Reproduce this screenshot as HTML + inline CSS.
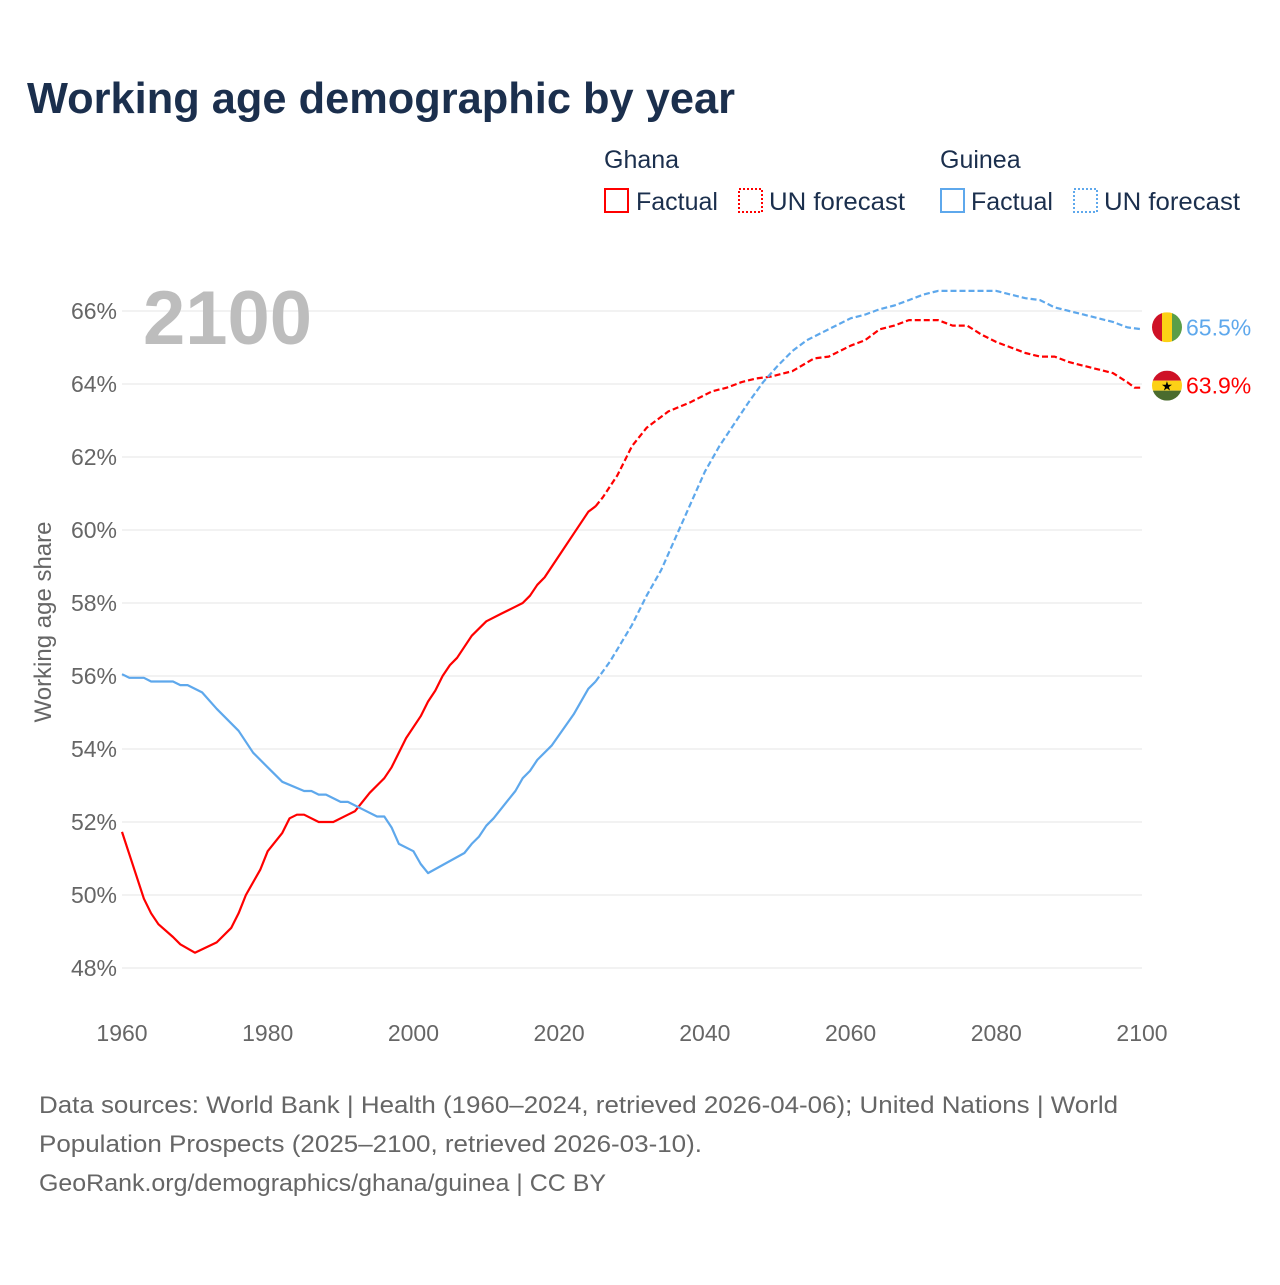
<!DOCTYPE html>
<html><head><meta charset="utf-8"><style>
body{margin:0;background:#fff;width:1280px;height:1280px;overflow:hidden;font-family:"Liberation Sans",sans-serif}
</style></head><body>
<svg id="c" width="1280" height="1280" xmlns="http://www.w3.org/2000/svg">
<text x="27" y="113" font-size="44" font-weight="bold" fill="#1b2f4d" textLength="708" lengthAdjust="spacingAndGlyphs">Working age demographic by year</text>
<g font-size="25" fill="#1b2f4d">
<text x="604" y="168">Ghana</text>
<rect x="605" y="189" width="23" height="23" fill="none" stroke="#f00" stroke-width="2"/>
<text x="636" y="210">Factual</text>
<rect x="739" y="189" width="23" height="23" fill="none" stroke="#f00" stroke-width="2" stroke-dasharray="2,2"/>
<text x="769" y="210" textLength="136" lengthAdjust="spacingAndGlyphs">UN forecast</text>
<text x="940" y="168">Guinea</text>
<rect x="941" y="189" width="23" height="23" fill="none" stroke="#5ea8ec" stroke-width="2"/>
<text x="971" y="210">Factual</text>
<rect x="1074" y="189" width="23" height="23" fill="none" stroke="#5ea8ec" stroke-width="2" stroke-dasharray="2,2"/>
<text x="1104" y="210" textLength="136" lengthAdjust="spacingAndGlyphs">UN forecast</text>
</g>
<g id="grid"></g>
<text x="143" y="344" font-size="76" font-weight="bold" fill="#bdbdbd">2100</text>
<text transform="translate(51,622) rotate(-90)" text-anchor="middle" font-size="24" fill="#666">Working age share</text>
<g id="lines"></g>
<g id="flags"></g>
<g font-size="24" fill="#666">
<text x="39" y="1113" textLength="1079" lengthAdjust="spacingAndGlyphs">Data sources: World Bank | Health (1960–2024, retrieved 2026-04-06); United Nations | World</text>
<text x="39" y="1152" textLength="663" lengthAdjust="spacingAndGlyphs">Population Prospects (2025–2100, retrieved 2026-03-10).</text>
<text x="39" y="1191" textLength="567" lengthAdjust="spacingAndGlyphs">GeoRank.org/demographics/ghana/guinea | CC BY</text>
</g>
</svg>
<script>
const yTicks=[48,50,52,54,56,58,60,62,64,66];
const xTicks=[1960,1980,2000,2020,2040,2060,2080,2100];
const ghanaFactYears=[1960,1963,1964,1965,1967,1968,1970,1973,1975,1976,1977,1979,1980,1982,1983,1984,1985,1987,1989,1991,1992,1994,1996,1997,1999,2001,2002,2003,2004,2005,2006,2008,2010,2012,2014,2015,2016,2017,2018,2020,2022,2024,2025];
const ghanaFactVals=[51.73,49.9,49.5,49.2,48.85,48.65,48.42,48.7,49.1,49.5,50.0,50.7,51.2,51.7,52.1,52.2,52.2,52.0,52.0,52.2,52.3,52.8,53.2,53.5,54.3,54.9,55.3,55.6,56.0,56.3,56.5,57.1,57.5,57.7,57.9,58.0,58.2,58.5,58.7,59.3,59.9,60.5,60.65];
const ghanaFcYears=[2025,2026,2028,2029,2030,2032,2033,2035,2038,2041,2043,2045,2047,2049,2052,2055,2057,2060,2062,2064,2066,2068,2072,2074,2076,2078,2080,2082,2084,2086,2088,2090,2092,2094,2096,2098,2099,2100];
const ghanaFcVals=[60.65,60.9,61.5,61.9,62.3,62.8,62.95,63.25,63.5,63.8,63.9,64.05,64.15,64.2,64.35,64.7,64.75,65.05,65.2,65.5,65.6,65.75,65.75,65.6,65.6,65.35,65.15,65.0,64.85,64.75,64.75,64.6,64.5,64.4,64.3,64.05,63.9,63.9];
const guineaFactYears=[1960,1961,1963,1964,1967,1968,1969,1971,1973,1976,1978,1980,1982,1985,1986,1987,1988,1990,1991,1993,1995,1996,1997,1998,2000,2001,2002,2007,2008,2009,2010,2011,2013,2014,2015,2016,2017,2019,2022,2024,2025];
const guineaFactVals=[56.05,55.95,55.95,55.85,55.85,55.75,55.75,55.55,55.1,54.5,53.9,53.5,53.1,52.85,52.85,52.75,52.75,52.55,52.55,52.35,52.15,52.15,51.85,51.4,51.2,50.85,50.6,51.15,51.4,51.6,51.9,52.1,52.6,52.85,53.2,53.4,53.7,54.1,54.95,55.65,55.85];
const guineaFcYears=[2025,2027,2030,2032,2034,2036,2038,2040,2042,2044,2046,2048,2050,2052,2054,2056,2058,2060,2062,2064,2066,2068,2070,2072,2080,2082,2084,2086,2088,2090,2092,2094,2096,2098,2100];
const guineaFcVals=[55.85,56.4,57.4,58.2,58.9,59.8,60.7,61.6,62.3,62.9,63.5,64.05,64.5,64.9,65.2,65.4,65.6,65.8,65.9,66.05,66.15,66.3,66.45,66.55,66.55,66.45,66.35,66.3,66.1,66.0,65.9,65.8,65.7,65.55,65.5];

const NS='http://www.w3.org/2000/svg';
const X=y=>122+(y-1960)*(1020/140);
const Y=v=>311+(66-v)*36.5;
function mk(tag,attrs,parent){const e=document.createElementNS(NS,tag);for(const k in attrs)e.setAttribute(k,attrs[k]);parent.appendChild(e);return e;}
const grid=document.getElementById('grid');
yTicks.forEach(t=>{
  const l=mk('line',{x1:122,x2:1142,y1:Y(t),y2:Y(t),stroke:'#e6e6e6','stroke-width':1},grid);
  
  
  const tx=mk('text',{x:117,y:Y(t)+8,'text-anchor':'end','font-size':23,fill:'#666'},grid);
  tx.textContent=t+'%';
  
  
});
xTicks.forEach(t=>{
  const tx=mk('text',{x:X(t),y:1041,'text-anchor':'middle','font-size':23,fill:'#666'},grid);
  tx.textContent=t;
  
  
});
const lines=document.getElementById('lines');
function line(ys,vs,color,dash,name){
  const d=ys.map((y,i)=>(i?'L':'M')+X(y).toFixed(1)+','+Y(vs[i]).toFixed(1)).join('');
  const p=mk('path',{d:d,fill:'none',stroke:color,'stroke-width':2.2,'stroke-linejoin':'round'},lines);
  if(dash)p.setAttribute('stroke-dasharray','6,3');
  
  
}
line(ghanaFactYears,ghanaFactVals,'#ff0000',false,'ghana-factual-line');
line(ghanaFcYears,ghanaFcVals,'#ff0000',true,'ghana-forecast-line');
line(guineaFactYears,guineaFactVals,'#5ea8ec',false,'guinea-factual-line');
line(guineaFcYears,guineaFcVals,'#5ea8ec',true,'guinea-forecast-line');

const flags=document.getElementById('flags');
const gV=guineaFcVals[guineaFcVals.length-1], hV=ghanaFcVals[ghanaFcVals.length-1];
const fx=1167;
let gy=Y(gV)-2;
const gg=mk('g',{},flags);


const cg=mk('clipPath',{id:'cg'},gg);mk('circle',{cx:fx,cy:gy,r:15},cg);
const gcl=mk('g',{'clip-path':'url(#cg)'},gg);
mk('rect',{x:fx-15,y:gy-15,width:10,height:30,fill:'#ce1126'},gcl);
mk('rect',{x:fx-5,y:gy-15,width:10,height:30,fill:'#fcd116'},gcl);
mk('rect',{x:fx+5,y:gy-15,width:10,height:30,fill:'#5a9e48'},gcl);
const gl=mk('text',{x:1186,y:Y(gV)+6,'font-size':23,fill:'#5ea8ec'},flags);
gl.textContent=gV.toFixed(1)+'%';


let hy=Y(hV)-2;
const hg=mk('g',{},flags);


const cp=mk('clipPath',{id:'ch'},hg);mk('circle',{cx:fx,cy:hy,r:15},cp);
const hcl=mk('g',{'clip-path':'url(#ch)'},hg);
mk('rect',{x:fx-15,y:hy-15,width:30,height:10,fill:'#ce1126'},hcl);
mk('rect',{x:fx-15,y:hy-5,width:30,height:10,fill:'#fcd116'},hcl);
mk('rect',{x:fx-15,y:hy+5,width:30,height:10,fill:'#4a6b2e'},hcl);
const st=mk('text',{x:fx,y:hy+5,'text-anchor':'middle','font-size':13,fill:'#000'},hg);st.textContent='★';
const hl=mk('text',{x:1186,y:Y(hV)+6,'font-size':23,fill:'#ff0000'},flags);
hl.textContent=hV.toFixed(1)+'%';


</script>
</body></html>
